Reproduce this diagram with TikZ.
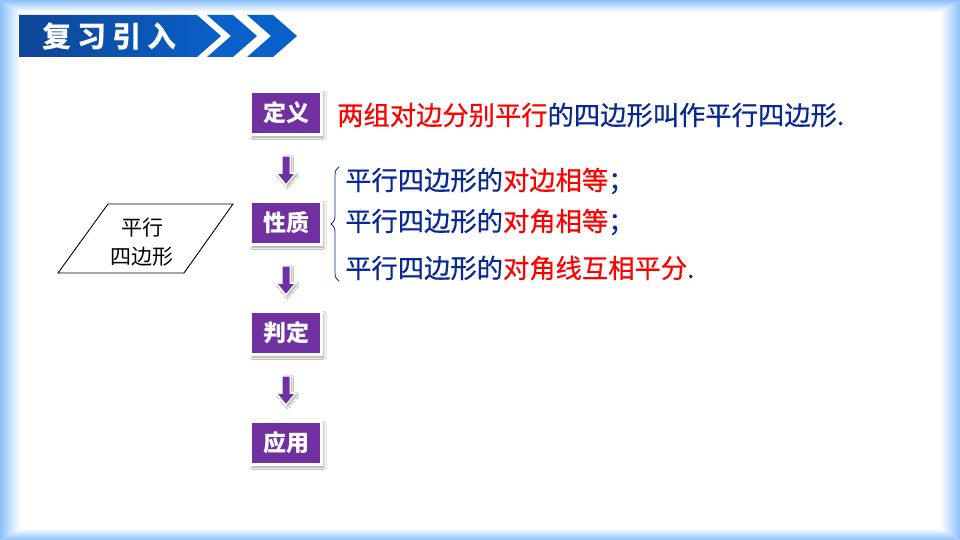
\documentclass[tikz,border=0pt]{standalone}
\usepackage{fontspec}
\setmainfont{Noto Sans CJK SC}
\usetikzlibrary{shapes.arrows,shadows.blur,decorations.pathreplacing,calc}
\definecolor{pptpurple}{RGB}{112,48,160}
\definecolor{navy}{RGB}{8,40,150}
\definecolor{redtxt}{RGB}{255,0,0}
\definecolor{framebl}{RGB}{140,192,250}
\definecolor{bannerA}{RGB}{14,70,152}
\definecolor{bannerB}{RGB}{8,96,200}
\begin{document}
\begin{tikzpicture}[x=1pt,y=-1pt,
  stepbox/.style={fill=pptpurple, draw=white, line width=3pt, minimum width=71pt, minimum height=43pt, inner sep=0pt, text=white, font=\fontsize{23}{23}\selectfont\bfseries, blur shadow={shadow xshift=2pt, shadow yshift=-2.5pt, shadow blur radius=2.5pt, shadow opacity=40}},
  downarrow/.style={shape=single arrow, rotate=-90, fill=pptpurple, draw=white, line width=1.3pt, minimum height=29pt, minimum width=18pt, single arrow head extend=5.5pt, single arrow tip angle=78, inner sep=3.5pt, blur shadow={shadow xshift=1.5pt, shadow yshift=-1.5pt, shadow blur radius=2pt, shadow opacity=40}},
  body/.style={anchor=west, inner sep=0pt, font=\fontsize{26.3}{26.3}\selectfont\addfontfeature{FakeBold=0.5}, text=navy}
]
\useasboundingbox (0,0) rectangle (960,540);
\fill[white] (0,0) rectangle (960,540);
% frame
\begin{scope}
\clip (0,0) -- (20,12) -- (20,528) -- (0,540) -- cycle;
\shade[left color=framebl, right color=white] (0,0) rectangle (20,540);
\end{scope}
\begin{scope}
\clip (960,0) -- (940,12) -- (940,528) -- (960,540) -- cycle;
\shade[left color=white, right color=framebl] (940,0) rectangle (960,540);
\end{scope}
\begin{scope}
\clip (0,0) -- (960,0) -- (940,12) -- (20,12) -- cycle;
\shade[top color=framebl, bottom color=white] (0,0) rectangle (960,12);
\end{scope}
\begin{scope}
\clip (0,540) -- (960,540) -- (940,528) -- (20,528) -- cycle;
\shade[top color=white, bottom color=framebl] (0,528) rectangle (960,540);
\end{scope}
% banner
\shade[left color=bannerA, right color=bannerB] (19,15) -- (197,15) -- (221,36) -- (197,57) -- (19,57) -- cycle;
\fill[bannerB] (207,15) -- (233,15) -- (257,36) -- (233,57) -- (207,57) -- (231,36) -- cycle;
\fill[bannerB] (247,15) -- (273,15) -- (297,36) -- (273,57) -- (247,57) -- (271,36) -- cycle;
\node[anchor=west, inner sep=0pt, text=white, font=\fontsize{29}{29}\selectfont\bfseries\addfontfeature{LetterSpace=21}] (title) at (42,36) {复习引入};
% boxes
\node[stepbox] (def) at (286,113) {定义};
\node[stepbox] (prop) at (286,223) {性质};
\node[stepbox] (judge) at (286,333) {判定};
\node[stepbox] (app) at (286,443) {应用};
\node[downarrow] (a1) at ($(def.south)!0.5!(prop.north)$) {};
\node[downarrow] (a2) at ($(prop.south)!0.5!(judge.north)$) {};
\node[downarrow] (a3) at ($(judge.south)!0.5!(app.north)$) {};
% parallelogram
\draw[black, line width=0.9pt] (108,204) -- (233,204) -- (184,273) -- (58,273) -- cycle;
\node[font=\fontsize{21}{29}\selectfont, align=center, inner sep=0pt] (para) at (142,242) {平行\\四边形};
% texts
\node[body] (t1) at (337,115) {{\color{redtxt}两组对边分别平行}的四边形叫作平行四边形.};
\node[body] (t2) at (345,181) {平行四边形的{\color{redtxt}对边相等}；};
\node[body] (t3) at (345,222) {平行四边形的{\color{redtxt}对角相等}；};
\node[body] (t4) at (345,268) {平行四边形的{\color{redtxt}对角线互相平分}.};
\draw[navy, line width=0.8pt, decorate, decoration={brace, amplitude=8pt}] (339,281) -- (339,167);
\end{tikzpicture}
\end{document}
